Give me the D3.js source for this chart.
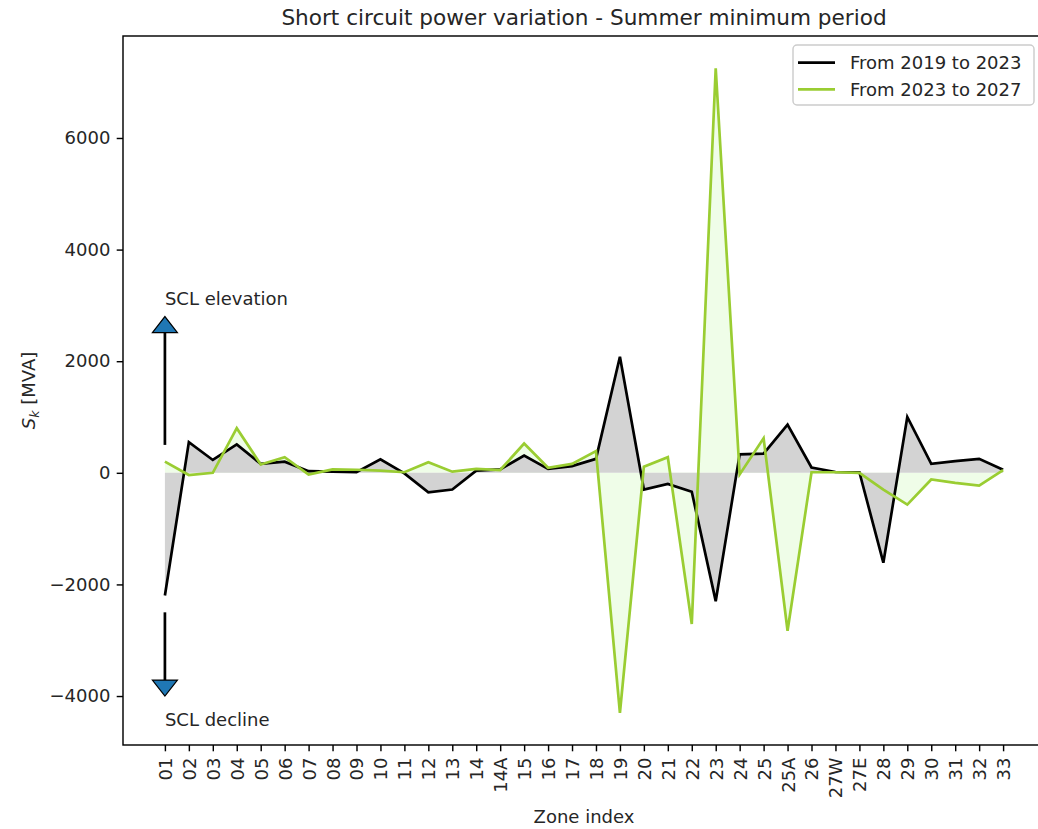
<!DOCTYPE html>
<html>
<head>
<meta charset="utf-8">
<script src="https://cdn.jsdelivr.net/npm/d3@7"></script>
<style>
  html, body { margin: 0; padding: 0; background: #fff; }
  svg { display: block; font-family: "DejaVu Sans", sans-serif; }
</style>
</head>
<body>
<svg id="chart" width="1038" height="829"></svg>
<script>
// Zone labels along the x axis
const zones = ["01","02","03","04","05","06","07","08","09","10","11","12","13","14","14A",
  "15","16","17","18","19","20","21","22","23","24","25","25A","26","27W","27E",
  "28","29","30","31","32","33"];

// Short circuit power variation per zone [MVA]
const var2019to2023 = [-2200, 550, 230, 510, 160, 200, 30, 20, 10, 240, -10, -350, -300, 40, 60,
  310, 70, 120, 250, 2080, -300, -200, -340, -2300, 330, 345, 865, 95, 15, 10,
  -1610, 1000, 160, 210, 250, 55];
const var2023to2027 = [200, -40, 0, 800, 150, 280, -30, 60, 55, 40, 10, 190, 20, 70, 50,
  525, 90, 160, 390, -4300, 110, 280, -2710, 7250, -30, 620, -2830, 10, 10, 0,
  -300, -570, -120, -180, -230, 50];

const seriesNames = ["From 2019 to 2023", "From 2023 to 2027"];
const yTicks = [-4000, -2000, 0, 2000, 4000, 6000];

// Direction hints drawn at the first zone (values in MVA)
const hints = [
  { from: 500, to: 2800, text: "SCL elevation", textAt: 3000 },
  { from: -2500, to: -4000, text: "SCL decline", textAt: -4530 }
];

const svg = d3.select("#chart");
const plot = { left: 123, top: 36, right: 1045, bottom: 745 };
const fs = 18;          // tick / label font size
const tick = 6.3;       // tick length and padding
const lw = 2.7;         // line width

// Scales with 5% margins, as in the usual autoscaled plot
const n = zones.length;
const xPad = (n - 1) * 0.05;
const x = d3.scaleLinear().domain([-xPad, n - 1 + xPad]).range([plot.left, plot.right]);
const all = var2019to2023.concat(var2023to2027);
const yMin = d3.min(all), yMax = d3.max(all), yPad = (yMax - yMin) * 0.05;
const y = d3.scaleLinear().domain([yMin - yPad, yMax + yPad]).range([plot.bottom, plot.top]);

// Clip region for the plotting area
svg.append("defs").append("clipPath").attr("id", "clip")
  .append("rect").attr("x", plot.left).attr("y", plot.top)
  .attr("width", plot.right - plot.left).attr("height", plot.bottom - plot.top);

const g = svg.append("g").attr("clip-path", "url(#clip)");

const area = d3.area().x((d, i) => x(i)).y0(y(0)).y1(d => y(d));
const line = d3.line().x((d, i) => x(i)).y(d => y(d));

// Filled areas between each curve and zero
g.append("path").datum(var2023to2027).attr("d", area)
  .attr("fill", "#effde8").attr("stroke", "none");
g.append("path").datum(var2019to2023).attr("d", area)
  .attr("fill", "#d3d3d3").attr("stroke", "none");

// Curves
g.append("path").datum(var2019to2023).attr("d", line)
  .attr("fill", "none").attr("stroke", "#000").attr("stroke-width", lw)
  .attr("stroke-linejoin", "miter");
g.append("path").datum(var2023to2027).attr("d", line)
  .attr("fill", "none").attr("stroke", "#9acd32").attr("stroke-width", lw)
  .attr("stroke-linejoin", "miter");

// Direction hints: arrow with a triangular head and a caption
const head = 16, halfW = 12.5;
hints.forEach(h => {
  const cx = x(0);
  const tipY = y(h.to);
  const dir = h.to > h.from ? 1 : -1;       // 1 = pointing up
  const baseY = tipY + dir * head;
  svg.append("line")
    .attr("x1", cx).attr("x2", cx)
    .attr("y1", y(h.from)).attr("y2", baseY)
    .attr("stroke", "#000").attr("stroke-width", lw);
  svg.append("path")
    .attr("d", `M${cx - halfW},${baseY}L${cx + halfW},${baseY}L${cx},${tipY}Z`)
    .attr("fill", "#1f77b4").attr("stroke", "#000").attr("stroke-width", 1.2)
    .attr("stroke-linejoin", "miter");
  svg.append("text")
    .attr("x", cx).attr("y", y(h.textAt))
    .attr("font-size", fs).attr("fill", "#262626")
    .text(h.text);
});

// Axes
const xAxis = d3.axisBottom(x)
  .tickValues(d3.range(n))
  .tickFormat(i => zones[i])
  .tickSize(tick).tickPadding(tick);
const gx = svg.append("g").attr("transform", `translate(0,${plot.bottom})`).call(xAxis);
gx.select(".domain").remove();
gx.selectAll(".tick line").attr("stroke", "#000").attr("stroke-width", 1.44);
gx.selectAll(".tick text")
  .attr("font-size", fs).attr("font-family", "DejaVu Sans").attr("fill", "#262626")
  .attr("transform", "rotate(-90)")
  .attr("text-anchor", "end")
  .attr("x", -(tick * 2)).attr("y", 0).attr("dy", "0.36em");

const yAxis = d3.axisLeft(y)
  .tickValues(yTicks)
  .tickFormat(d3.format("d"))
  .tickSize(tick).tickPadding(tick);
const gy = svg.append("g").attr("transform", `translate(${plot.left},0)`).call(yAxis);
gy.select(".domain").remove();
gy.selectAll(".tick line").attr("stroke", "#000").attr("stroke-width", 1.44);
gy.selectAll(".tick text")
  .attr("font-size", fs).attr("font-family", "DejaVu Sans").attr("fill", "#262626");

// Frame
svg.append("rect")
  .attr("x", plot.left).attr("y", plot.top)
  .attr("width", plot.right - plot.left).attr("height", plot.bottom - plot.top)
  .attr("fill", "none").attr("stroke", "#000").attr("stroke-width", 1.44);

// Title and axis labels
const midX = (plot.left + plot.right) / 2;
svg.append("text")
  .attr("x", midX).attr("y", 25).attr("text-anchor", "middle")
  .attr("font-size", 21.6).attr("fill", "#262626")
  .text("Short circuit power variation - Summer minimum period");

svg.append("text")
  .attr("x", midX).attr("y", 823).attr("text-anchor", "middle")
  .attr("font-size", fs).attr("fill", "#262626")
  .text("Zone index");

const yl = svg.append("text")
  .attr("transform", `translate(35,${(plot.top + plot.bottom) / 2}) rotate(-90)`)
  .attr("text-anchor", "middle").attr("font-size", fs).attr("fill", "#262626");
yl.append("tspan").attr("font-style", "italic").text("S");
yl.append("tspan").attr("font-style", "italic").attr("font-size", fs * 0.7)
  .attr("dy", 4).text("k");
yl.append("tspan").attr("dy", -4).text(" [MVA]");

// Legend
const leg = svg.append("g");
leg.append("rect")
  .attr("x", 793).attr("y", 45).attr("width", 241).attr("height", 60)
  .attr("rx", 4).attr("fill", "#fff").attr("fill-opacity", 0.8)
  .attr("stroke", "#cccccc").attr("stroke-width", 1.44);
const legColors = ["#000", "#9acd32"];
seriesNames.forEach((name, i) => {
  const ly = 62.7 + i * 26.6;
  leg.append("line")
    .attr("x1", 798).attr("x2", 835).attr("y1", ly).attr("y2", ly)
    .attr("stroke", legColors[i]).attr("stroke-width", lw);
  leg.append("text")
    .attr("x", 850).attr("y", ly).attr("dy", "0.36em")
    .attr("font-size", fs).attr("fill", "#262626")
    .text(name);
});
</script>
</body>
</html>
